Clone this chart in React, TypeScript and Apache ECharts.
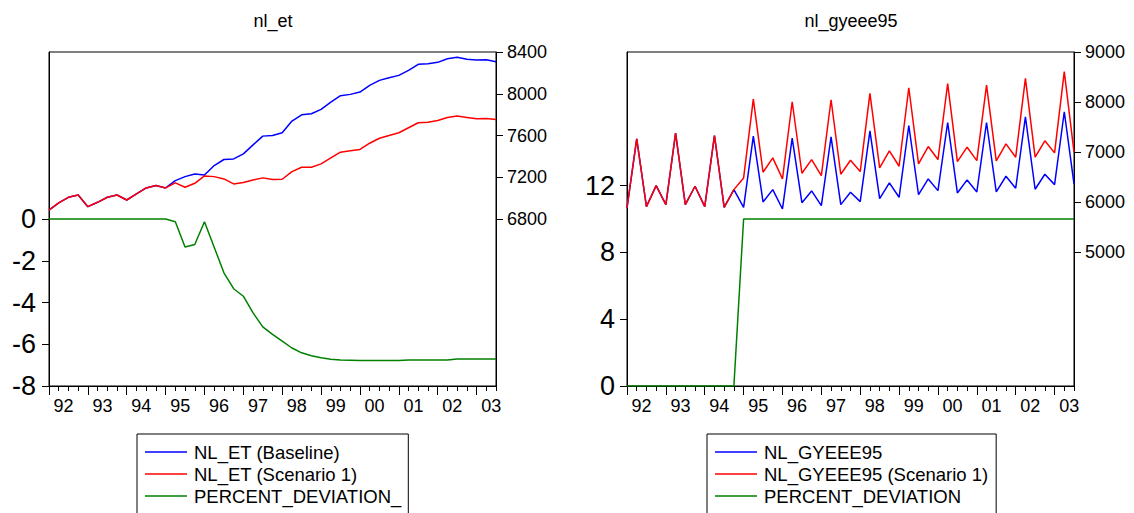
import React, { useEffect, useRef } from "react";
import * as echarts from "echarts";

// ---------- DATA ----------
const quarters = [
  "1992Q1", "1992Q2", "1992Q3", "1992Q4",
  "1993Q1", "1993Q2", "1993Q3", "1993Q4",
  "1994Q1", "1994Q2", "1994Q3", "1994Q4",
  "1995Q1", "1995Q2", "1995Q3", "1995Q4",
  "1996Q1", "1996Q2", "1996Q3", "1996Q4",
  "1997Q1", "1997Q2", "1997Q3", "1997Q4",
  "1998Q1", "1998Q2", "1998Q3", "1998Q4",
  "1999Q1", "1999Q2", "1999Q3", "1999Q4",
  "2000Q1", "2000Q2", "2000Q3", "2000Q4",
  "2001Q1", "2001Q2", "2001Q3", "2001Q4",
  "2002Q1", "2002Q2", "2002Q3", "2002Q4",
  "2003Q1", "2003Q2", "2003Q3",
];
const yearLabels = ["92", "93", "94", "95", "96", "97", "98", "99", "00", "01", "02", "03"];

// Left panel: nl_et
const nlEtBaseline = [
  6886, 6954, 7008, 7030, 6918, 6960, 7008, 7030, 6982, 7040, 7098, 7120,
  7098, 7168, 7206, 7232, 7222, 7312, 7370, 7376, 7424, 7510, 7594, 7600,
  7626, 7738, 7798, 7808, 7850, 7920, 7981, 7994, 8016, 8080, 8128, 8154,
  8176, 8224, 8282, 8288, 8301, 8336, 8349, 8330, 8323, 8326, 8307,
];
const nlEtScenario = [
  6886, 6954, 7008, 7030, 6918, 6960, 7008, 7030, 6982, 7040, 7098, 7120,
  7098, 7146, 7104, 7142, 7213, 7206, 7184, 7136, 7149, 7174, 7194, 7178,
  7181, 7254, 7296, 7296, 7328, 7386, 7440, 7453, 7466, 7526, 7574, 7600,
  7626, 7674, 7722, 7728, 7744, 7773, 7786, 7773, 7760, 7763, 7754,
];
const nlEtPctDev = [
  0, 0, 0, 0, 0, 0, 0, 0, 0, 0, 0, 0,
  0, -0.13, -1.34, -1.22, -0.13, -1.35, -2.58, -3.34, -3.7, -4.5, -5.17, -5.53,
  -5.85, -6.18, -6.41, -6.55, -6.65, -6.72, -6.76, -6.77, -6.78, -6.78, -6.78, -6.78,
  -6.78, -6.76, -6.75, -6.75, -6.75, -6.75, -6.71, -6.71, -6.71, -6.71, -6.71,
];

// Right panel: nl_gyeee95
const gyBaseline = [
  5887, 7267, 5913, 6333, 5953, 7380, 5953, 6320, 5913, 7333, 5900, 6253,
  5900, 7320, 6007, 6253, 5867, 7280, 5993, 6227, 5933, 7307, 5953, 6200,
  6013, 7427, 6073, 6387, 6100, 7533, 6153, 6467, 6233, 7593, 6187, 6447,
  6207, 7593, 6207, 6520, 6280, 7707, 6260, 6560, 6353, 7807, 6367,
];
const gyScenario = [
  5887, 7267, 5913, 6333, 5953, 7380, 5953, 6320, 5913, 7333, 5900, 6253,
  6487, 8060, 6600, 6887, 6467, 8007, 6580, 6853, 6533, 8047, 6560, 6840,
  6613, 8173, 6687, 7027, 6720, 8287, 6767, 7113, 6853, 8367, 6813, 7100,
  6833, 8340, 6827, 7167, 6900, 8473, 6900, 7227, 6987, 8607, 7000,
];
const gyPctDev = [
  0, 0, 0, 0, 0, 0, 0, 0, 0, 0, 0, 0,
  10, 10, 10, 10, 10, 10, 10, 10, 10, 10, 10, 10,
  10, 10, 10, 10, 10, 10, 10, 10, 10, 10, 10, 10,
  10, 10, 10, 10, 10, 10, 10, 10, 10, 10, 10,
];

// Axis tick labels
const leftPctTicks = [0, -2, -4, -6, -8];
const leftLevelTicks = [6800, 7200, 7600, 8000, 8400];
const rightPctTicks = [0, 4, 8, 12];
const rightLevelTicks = [5000, 6000, 7000, 8000, 9000];

// Legend names
const leftNames = ["NL_ET (Baseline)", "NL_ET (Scenario 1)", "PERCENT_DEVIATION_"];
const rightNames = ["NL_GYEEE95", "NL_GYEEE95 (Scenario 1)", "PERCENT_DEVIATION"];

// ---------- CHART ----------
const FONT = "'Liberation Sans', Arial, Helvetica, sans-serif";
const BLUE = "#0000ff";
const RED = "#ff0000";
const GREEN = "#008000";

const lastIdx = quarters.length - 1;
const majorTicks = quarters.map((_, i) => i).filter((i) => i % 4 === 0);
const minorTicks = quarters.map((_, i) => i).filter((i) => i % 4 !== 0);
const labelPos = majorTicks.map((i) => i + 1.5);

function xAxesFor(gi: number) {
  return [
    {
      type: "value",
      gridIndex: gi,
      position: "bottom",
      min: 0,
      max: lastIdx,
      axisLine: { show: true, onZero: false, lineStyle: { color: "#000", width: 1 } },
      axisTick: { show: true, length: 9, customValues: majorTicks, lineStyle: { color: "#000" } },
      axisLabel: {
        show: true,
        customValues: labelPos,
        formatter: (v: number) => yearLabels[Math.floor(v / 4)] ?? "",
        fontSize: 18,
        color: "#000",
        fontFamily: FONT,
        margin: 11,
      },
      splitLine: { show: false },
    },
    {
      type: "value",
      gridIndex: gi,
      position: "bottom",
      min: 0,
      max: lastIdx,
      axisLine: { show: false, onZero: false },
      axisTick: { show: true, length: 5, customValues: minorTicks.concat([lastIdx]), lineStyle: { color: "#000" } },
      axisLabel: { show: false },
      splitLine: { show: false },
    },
  ];
}

function yAxis(gi: number, position: string, min: number, max: number, ticks: number[], fontSize: number, margin: number) {
  return {
    type: "value",
    gridIndex: gi,
    position,
    min,
    max,
    axisLine: { show: true, onZero: false, lineStyle: { color: "#000", width: 1 } },
    axisTick: { show: true, length: 7, customValues: ticks, lineStyle: { color: "#000" } },
    axisLabel: {
      show: true,
      customValues: ticks,
      formatter: (v: number) => String(v),
      fontSize,
      color: "#000",
      fontFamily: FONT,
      margin,
    },
    splitLine: { show: false },
  };
}

function lineSeries(name: string, values: number[], color: string, xi: number, yi: number, width: number) {
  return {
    type: "line",
    name,
    xAxisIndex: xi,
    yAxisIndex: yi,
    data: values.map((v, i) => [i, v]),
    showSymbol: false,
    symbol: "none",
    lineStyle: { color, width },
    itemStyle: { color },
    silent: true,
  };
}

function legendFor(names: string[], left: number, padRight: number) {
  return {
    type: "plain",
    orient: "vertical",
    left,
    top: 434,
    height: 140,
    data: names,
    icon: "rect",
    itemWidth: 42,
    itemHeight: 1.5,
    itemGap: 0,
    padding: [7, padRight, 24, 8],
    borderColor: "#000",
    borderWidth: 1,
    selectedMode: false,
    textStyle: { fontSize: 18.5, fontFamily: FONT, color: "#000", lineHeight: 22, padding: [0, 0, 0, 2] },
  };
}

export default function App() {
  const ref = useRef<HTMLDivElement>(null);

  useEffect(() => {
    if (!ref.current) return;
    const chart = echarts.init(ref.current, undefined, { renderer: "svg" });
    const option: any = {
      animation: false,
      backgroundColor: "#fff",
      textStyle: { fontFamily: FONT },
      grid: [
        { left: 49, top: 52, width: 447, height: 334, show: true, borderColor: "#000", borderWidth: 1, backgroundColor: "transparent" },
        { left: 627, top: 52, width: 447, height: 334, show: true, borderColor: "#000", borderWidth: 1, backgroundColor: "transparent" },
      ],
      xAxis: [...xAxesFor(0), ...xAxesFor(1)],
      yAxis: [
        yAxis(0, "left", -8, 8, leftPctTicks, 27, 13),
        yAxis(0, "right", 5200, 8400, leftLevelTicks, 18, 11),
        yAxis(1, "left", 0, 20, rightPctTicks, 27, 12),
        yAxis(1, "right", 7000 / 3, 9000, rightLevelTicks, 18, 11),
      ],
      legend: [legendFor(leftNames, 137, 7), legendFor(rightNames, 707, 8)],
      graphic: [
        { type: "text", x: 273, y: 21, silent: true, style: { text: "nl_et", align: "center", verticalAlign: "middle", fontSize: 18, fontFamily: FONT, fill: "#000" } },
        { type: "text", x: 851, y: 21, silent: true, style: { text: "nl_gyeee95", align: "center", verticalAlign: "middle", fontSize: 18, fontFamily: FONT, fill: "#000" } },
      ],
      series: [
        lineSeries(leftNames[0], nlEtBaseline, BLUE, 0, 1, 1.5),
        lineSeries(leftNames[1], nlEtScenario, RED, 0, 1, 1.5),
        lineSeries(leftNames[2], nlEtPctDev, GREEN, 0, 0, 1.5),
        lineSeries(rightNames[0], gyBaseline, BLUE, 2, 3, 1.5),
        lineSeries(rightNames[1], gyScenario, RED, 2, 3, 1.5),
        lineSeries(rightNames[2], gyPctDev, GREEN, 2, 2, 1.5),
      ],
    };
    chart.setOption(option);
    return () => chart.dispose();
  }, []);

  return (
    <div
      ref={ref}
      style={{ position: "fixed", left: 0, top: 0, width: 1134, height: 513, background: "#fff" }}
    />
  );
}
